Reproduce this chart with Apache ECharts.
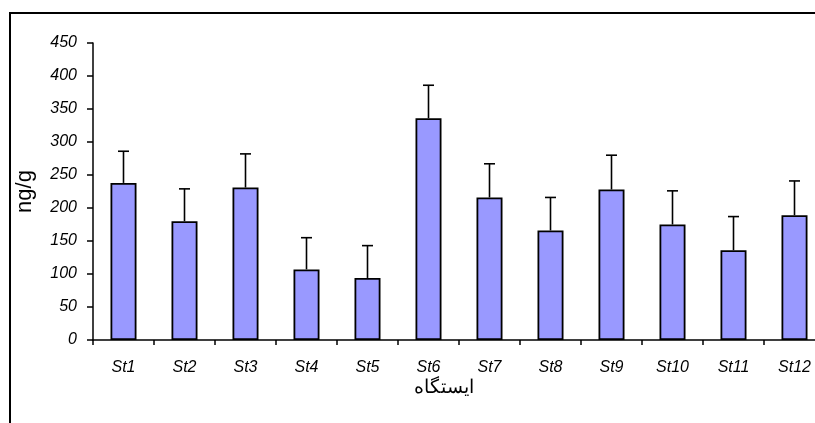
<!DOCTYPE html>
<html>
<head>
<meta charset="utf-8">
<script src="https://cdn.jsdelivr.net/npm/echarts@6/dist/echarts.min.js"></script>
<style>html,body{margin:0;padding:0;background:#fff;overflow:hidden;width:815px;height:423px;}#c{width:840px;height:423px;}</style>
</head>
<body>
<div id="c"></div>
<script>
const categories = ['St1','St2','St3','St4','St5','St6','St7','St8','St9','St10','St11','St12'];
const means = [238, 180, 231, 107, 94, 336, 216, 166, 228, 175, 136, 189];
const upperErr = [286, 229, 282, 155, 143, 386, 267, 216, 280, 226, 187, 241];
const yTicks = {min: 0, max: 450, interval: 50};

const chart = echarts.init(document.getElementById('c'));
const font = '"Liberation Sans", Arial, sans-serif';
chart.setOption({
  animation: false,
  backgroundColor: '#fff',
  grid: {left: 93, width: 732, top: 43, height: 297, containLabel: false},
  graphic: [
    {type: 'rect', shape: {x: 10, y: 13, width: 900, height: 500}, style: {fill: 'none', stroke: '#000', lineWidth: 2}, silent: true},
    {type: 'text', x: 444, y: 388, style: {text: 'ایستگاه', font: '19px ' + font, fill: '#000', align: 'center', verticalAlign: 'middle'}}
  ],
  xAxis: {
    type: 'category',
    data: categories,
    axisLine: {lineStyle: {color: '#000', width: 1.5}},
    axisTick: {show: true, length: 5, lineStyle: {color: '#000', width: 1.5}},
    axisLabel: {color: '#000', fontStyle: 'italic', fontSize: 16, fontFamily: font, margin: 20, interval: 0},
    splitLine: {show: false}
  },
  yAxis: {
    type: 'value',
    min: yTicks.min, max: yTicks.max, interval: yTicks.interval,
    name: 'ng/g',
    nameLocation: 'middle',
    nameGap: 57,
    nameTextStyle: {color: '#000', fontSize: 22, fontFamily: font},
    axisLine: {show: true, lineStyle: {color: '#000', width: 1.5}},
    axisTick: {show: true, length: 6, lineStyle: {color: '#000', width: 1.5}},
    axisLabel: {color: '#000', fontStyle: 'italic', fontSize: 16, fontFamily: font, margin: 16},
    splitLine: {show: false}
  },
  series: [
    {
      type: 'bar',
      data: means,
      barWidth: 26,
      itemStyle: {color: '#9999FF', borderColor: '#000', borderWidth: 1.8},
      z: 2
    },
    {
      type: 'custom',
      data: categories.map((c, i) => [i, means[i], upperErr[i]]),
      z: 3,
      renderItem: function (params, api) {
        const x = api.value(0);
        const p0 = api.coord([x, api.value(1)]);
        const p1 = api.coord([x, api.value(2)]);
        const hw = 5.5;
        const st = {stroke: '#000', lineWidth: 1.6};
        return {
          type: 'group',
          children: [
            {type: 'line', shape: {x1: p0[0], y1: p0[1], x2: p1[0], y2: p1[1]}, style: st},
            {type: 'line', shape: {x1: p1[0] - hw, y1: p1[1], x2: p1[0] + hw, y2: p1[1]}, style: st}
          ]
        };
      }
    }
  ]
});
</script>
</body>
</html>
